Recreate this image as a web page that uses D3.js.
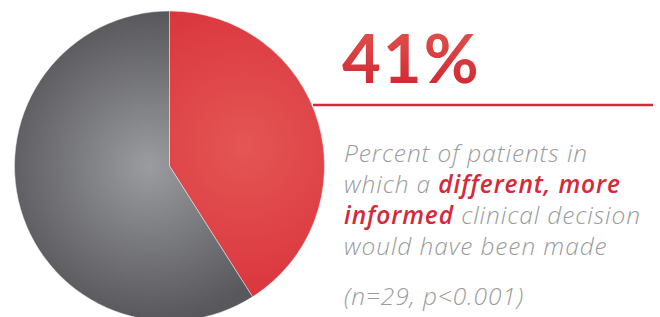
<!DOCTYPE html>
<html>
<head>
<meta charset="utf-8">
<script src="https://cdn.jsdelivr.net/npm/d3@7"></script>
<style>
  html, body { margin: 0; padding: 0; background: #fff; }
  svg { display: block; }
</style>
</head>
<body>
<svg id="chart"></svg>
<script>
// data
const labels = ['Different decision', 'Same decision'];
const values = [41, 59];
const headline = '41%';
const captionLines = [
  [{ t: 'Percent of patients in' }],
  [{ t: 'which a ' }, { t: 'different, more', hl: true }],
  [{ t: 'informed', hl: true }, { t: ' clinical decision' }],
  [{ t: 'would have been made' }]
];
const footnote = '(n=29, p<0.001)';

const width = 660, height = 317;
const cx = 169.5, cy = 166, radius = 155;

const svg = d3.select('#chart')
  .attr('width', width)
  .attr('height', height);

const defs = svg.append('defs');

// radial gradients for the slices (coords relative to pie centre)
const redGrad = defs.append('radialGradient')
  .attr('id', 'redGrad')
  .attr('gradientUnits', 'userSpaceOnUse')
  .attr('cx', 75).attr('cy', -20).attr('r', 165);
redGrad.append('stop').attr('offset', '0%').attr('stop-color', '#e45654');
redGrad.append('stop').attr('offset', '100%').attr('stop-color', '#d9333c');

const grayGrad = defs.append('radialGradient')
  .attr('id', 'grayGrad')
  .attr('gradientUnits', 'userSpaceOnUse')
  .attr('cx', -20).attr('cy', 0).attr('r', radius);
grayGrad.append('stop').attr('offset', '0%').attr('stop-color', '#9b9c9f');
grayGrad.append('stop').attr('offset', '100%').attr('stop-color', '#57575c');

const textGrad = defs.append('linearGradient')
  .attr('id', 'textGrad')
  .attr('x1', 0).attr('y1', 0).attr('x2', 0).attr('y2', 1);
textGrad.append('stop').attr('offset', '0%').attr('stop-color', '#e05a52');
textGrad.append('stop').attr('offset', '100%').attr('stop-color', '#d0202e');

const fills = ['url(#redGrad)', 'url(#grayGrad)'];

const pie = d3.pie().sort(null).value(d => d);
const arc = d3.arc().innerRadius(0).outerRadius(radius);

svg.append('g')
  .attr('transform', `translate(${cx},${cy})`)
  .selectAll('path')
  .data(pie(values))
  .join('path')
  .attr('d', arc)
  .attr('fill', (d, i) => fills[i])
  .attr('stroke', '#eeeeee')
  .attr('stroke-width', 0.5);

// headline number
svg.append('text')
  .attr('x', 342)
  .attr('y', 83)
  .attr('font-family', 'Lato, sans-serif')
  .attr('font-weight', 700)
  .attr('font-size', 67)
  .attr('letter-spacing', 2)
  .attr('fill', 'url(#textGrad)')
  .text(headline);

// red rule
svg.append('line')
  .attr('x1', 313).attr('x2', 653)
  .attr('y1', 105).attr('y2', 105)
  .attr('stroke', '#d42a3a')
  .attr('stroke-width', 2.5);

// caption
const font = '"Open Sans", sans-serif';
const caption = svg.append('text')
  .attr('font-family', font)
  .attr('font-style', 'italic')
  .attr('font-size', 24.5)
  .attr('letter-spacing', 0.9)
  .attr('fill', '#9a9b9d');

captionLines.forEach((line, i) => {
  line.forEach((seg, j) => {
    const ts = caption.append('tspan')
      .text(seg.t)
      .attr('font-weight', seg.hl ? 600 : 300)
      .attr('fill', seg.hl ? '#d42a3a' : '#9a9b9d');
    if (j === 0) ts.attr('x', 344).attr('y', 162 + i * 31);
  });
});

svg.append('text')
  .attr('x', 344)
  .attr('y', 305)
  .attr('font-family', font)
  .attr('font-style', 'italic')
  .attr('font-weight', 300)
  .attr('font-size', 24.5)
  .attr('letter-spacing', 0.9)
  .attr('fill', '#9a9b9d')
  .text(footnote);
</script>
</body>
</html>
